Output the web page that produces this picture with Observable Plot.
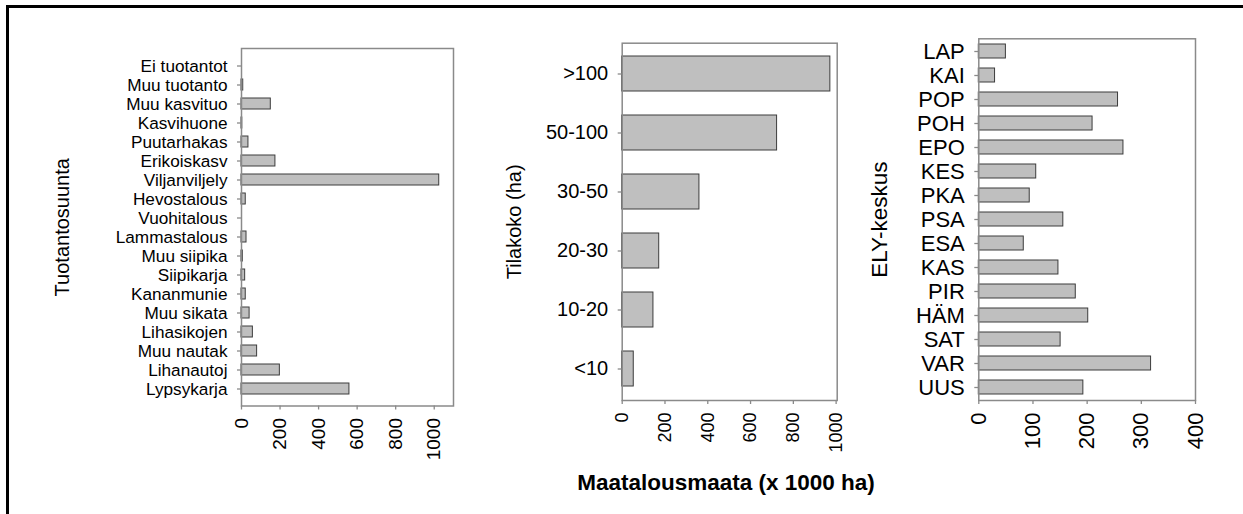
<!DOCTYPE html>
<html><head><meta charset="utf-8">
<script src="https://cdn.jsdelivr.net/npm/d3@7"></script>
<script src="https://cdn.jsdelivr.net/npm/@observablehq/plot@0.6"></script>
<style>
body{margin:0;background:#fff;}
#wrap{position:relative;width:1243px;height:514px;overflow:hidden;background:#fff;font-family:"Liberation Sans",Arial,sans-serif;}
#frame{position:absolute;left:6px;top:5px;width:1237px;height:509px;border-top:3.5px solid #000;border-left:3px solid #000;box-sizing:border-box;z-index:5;pointer-events:none;}
#xtitle{position:absolute;left:526px;width:400px;top:470px;text-align:center;font-weight:bold;font-size:22.5px;color:#000;}
.pp{position:absolute;top:0;overflow:visible;}
</style>
</head><body>
<div id="wrap"><div id="frame"></div><div id="xtitle">Maatalousmaata (x 1000 ha)</div></div>
<script>
// Panel 1: Tuotantosuunta
const prodCats = ["Ei tuotantot","Muu tuotanto","Muu kasvituo","Kasvihuone","Puutarhakas","Erikoiskasv","Viljanviljely","Hevostalous","Vuohitalous","Lammastalous","Muu siipika","Siipikarja","Kananmunie","Muu sikata","Lihasikojen","Muu nautak","Lihanautoj","Lypsykarja"];
const prodVals = [0, 9, 152, 4, 36, 176, 1026, 22, 0, 26, 7, 19, 22, 42, 59, 81, 199, 560];
const prodTicks = [0, 200, 400, 600, 800, 1000];

// Panel 2: Tilakoko (ha)
const sizeCats = [">100","50-100","30-50","20-30","10-20","<10"];
const sizeVals = [973, 724, 361, 173, 146, 54];
const sizeTicks = [0, 200, 400, 600, 800, 1000];

// Panel 3: ELY-keskus
const elyCats = ["LAP","KAI","POP","POH","EPO","KES","PKA","PSA","ESA","KAS","PIR","HÄM","SAT","VAR","UUS"];
const elyVals = [50, 30, 257, 210, 267, 106, 94, 156, 83, 147, 179, 202, 151, 318, 193];
const elyTicks = [0, 100, 200, 300, 400];

const FONT = '"Liberation Sans", Arial, sans-serif';

function panel(o) {
  const data = o.cats.map((c, i) => ({cat: c, value: o.vals[i]}));
  const svg = Plot.plot({
    width: o.width, height: 470,
    marginLeft: o.mL, marginRight: o.mR, marginTop: o.mT, marginBottom: 470 - o.bottom,
    style: {fontFamily: FONT, fontSize: o.yFont + "px", color: "#000", background: "transparent", overflow: "visible"},
    x: {domain: [0, o.xMax], label: null},
    y: {domain: o.cats, paddingInner: 0.4, paddingOuter: 0.2, label: null},
    marks: [
      Plot.barX(data, {x: "value", y: "cat", fill: "#bfbfbf", stroke: "#3c3c3c", strokeWidth: 1}),
      Plot.frame({stroke: "#8a8a8a", strokeWidth: 1.5}),
      Plot.axisY({tickSize: 4, tickPadding: 10, fontSize: o.yFont, stroke: "#8a8a8a", strokeWidth: 1.3, fill: "#000", label: null}),
      Plot.axisX({ticks: o.ticks, tickFormat: d => String(d), tickSize: 4, tickPadding: 8, tickRotate: -90, fontSize: o.xFont, stroke: "#8a8a8a", strokeWidth: 1.3, fill: "#000", label: null}),
      Plot.text([o.title], {text: d => d, frameAnchor: "left", textAnchor: "middle", lineAnchor: "middle", rotate: -90, dx: o.titleDx, fontSize: o.titleFont, fill: "#000"})
    ]
  });
  svg.classList.add("pp");
  svg.style.left = o.left + "px";
  svg.style.overflow = "visible";
  document.getElementById("wrap").appendChild(svg);
}

panel({cats: prodCats, vals: prodVals, ticks: prodTicks, xMax: 1100, left: 0, width: 470, mL: 241, mR: 17, mT: 48, bottom: 405.5, yFont: 17.2, xFont: 19, title: "Tuotantosuunta", titleDx: -179, titleFont: 20});
panel({cats: sizeCats, vals: sizeVals, ticks: sizeTicks, xMax: 1005, left: 480, width: 380, mL: 141.7, mR: 23.3, mT: 42.7, bottom: 400, yFont: 20, xFont: 18, title: "Tilakoko (ha)", titleDx: -107.7, titleFont: 20});
panel({cats: elyCats, vals: elyVals, ticks: elyTicks, xMax: 400, left: 840, width: 403, mL: 138.3, mR: 48, mT: 38.3, bottom: 400, yFont: 22, xFont: 22, title: "ELY-keskus", titleDx: -99.3, titleFont: 22.5});
</script>
</body></html>
